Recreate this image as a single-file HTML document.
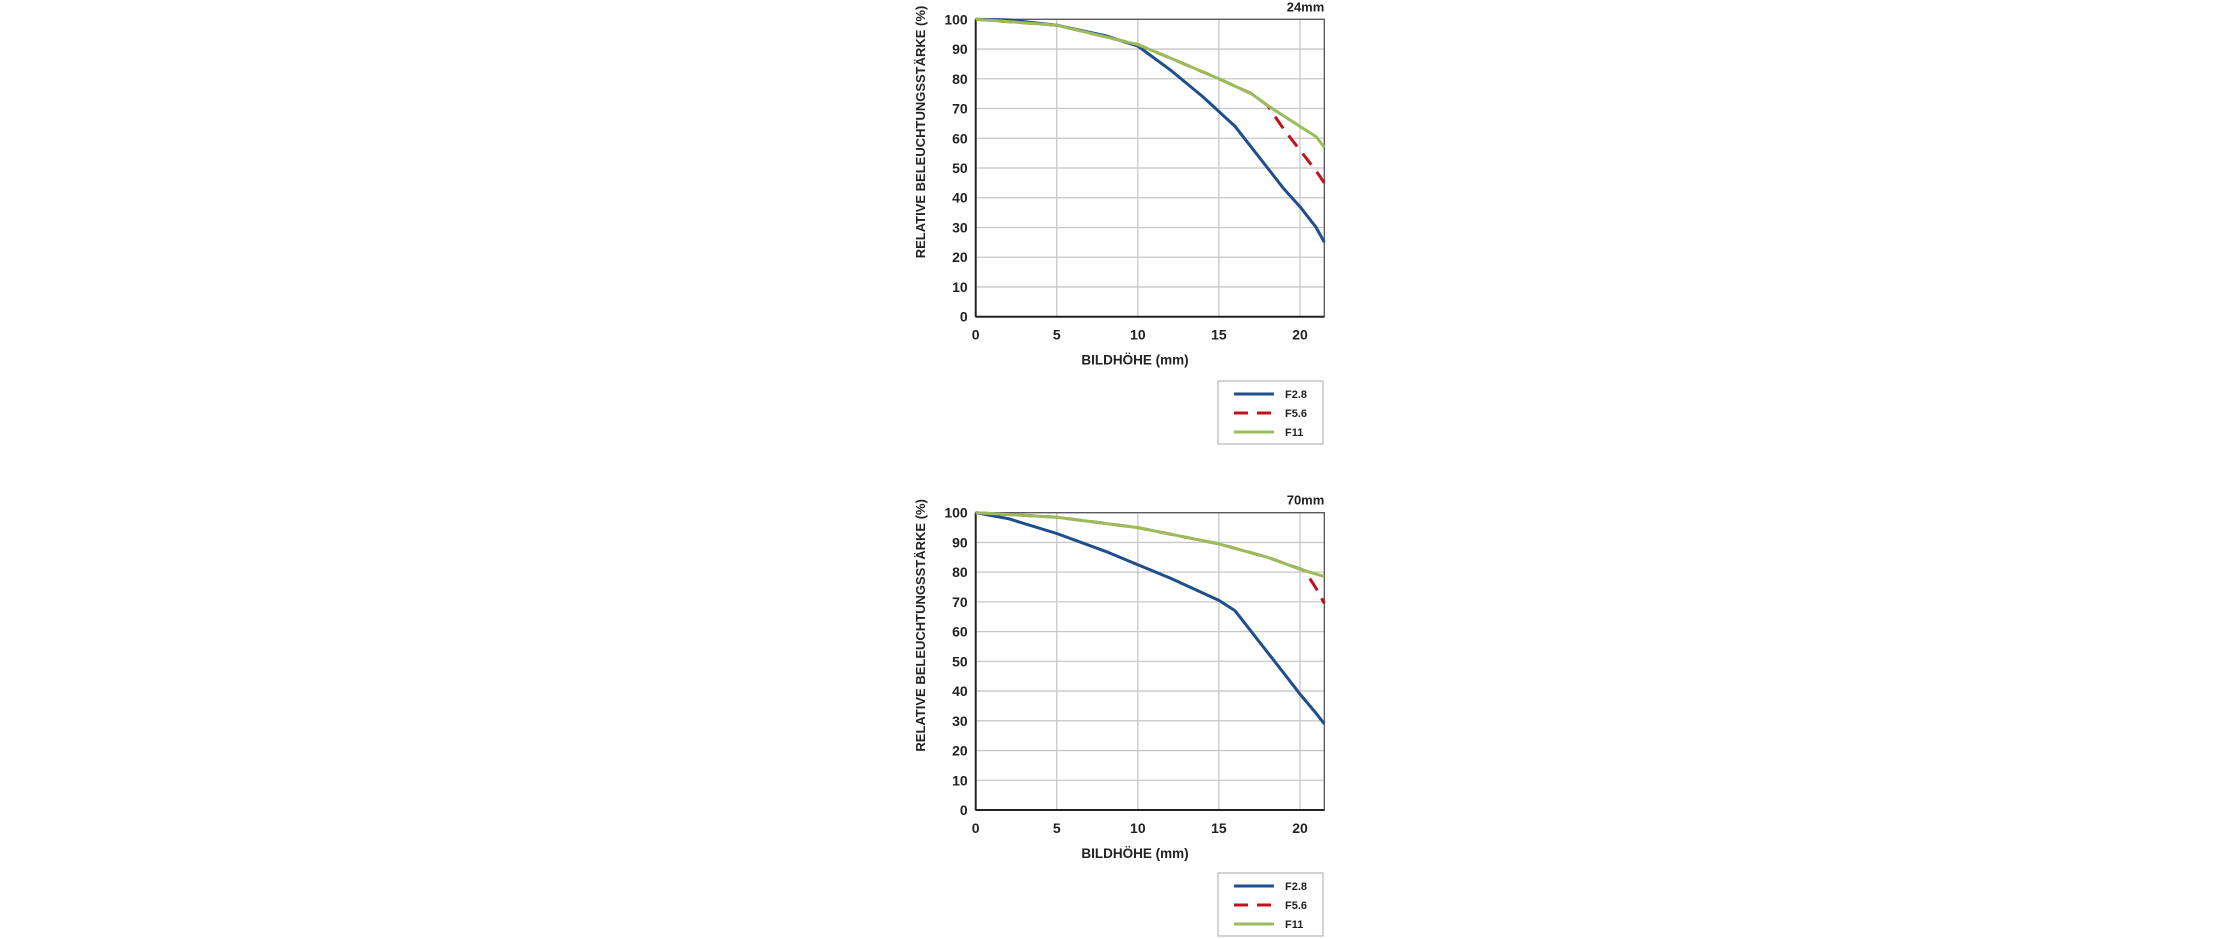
<!DOCTYPE html>
<html><head><meta charset="utf-8"><style>
html,body{margin:0;padding:0;background:#fff;}
svg{display:block;font-family:"Liberation Sans",sans-serif;font-weight:bold;}
</style></head><body>
<svg id="s" width="2238" height="939" xmlns="http://www.w3.org/2000/svg"></svg>
<script>
const s=document.getElementById('s');let h='';
const L=975.7,R=1324.3,pxmm=(R-L)/21.5;
function chart(top,bot,title,blue,green,red,legTop){
  const X=v=>L+v*pxmm, Y=v=>bot-(bot-top)*v/100;
  for(let i=0;i<=10;i++){h+=`<line x1="${L}" x2="${R}" y1="${Y(i*10)}" y2="${Y(i*10)}" stroke="#c8c8c8" stroke-width="1.3"/>`;
    h+=`<text x="${L-8}" y="${Y(i*10)+5}" font-size="14" text-anchor="end" fill="#222">${i*10}</text>`;}
  for(let i=0;i<=4;i++){h+=`<line x1="${X(i*5)}" x2="${X(i*5)}" y1="${top}" y2="${bot}" stroke="#c8c8c8" stroke-width="1.3"/>`;
    h+=`<text x="${X(i*5)}" y="${bot+23}" font-size="14" text-anchor="middle" fill="#222">${i*5}</text>`;}
  h+=`<rect x="${L}" y="${top}" width="${R-L}" height="${bot-top}" fill="none" stroke="#555" stroke-width="1.3"/>`;
  h+=`<line x1="${L}" x2="${R}" y1="${bot}" y2="${bot}" stroke="#222" stroke-width="2"/><line x1="${L}" x2="${L}" y1="${top}" y2="${bot}" stroke="#222" stroke-width="2"/>`;
  const p=a=>a.map(q=>X(q[0]).toFixed(1)+','+Y(q[1]).toFixed(1)).join(' ');
  h+=`<polyline points="${p(red)}" fill="none" stroke="#c0121c" stroke-width="3" stroke-dasharray="14,9"/>`;
  h+=`<polyline points="${p(blue)}" fill="none" stroke="#1f4e8c" stroke-width="3" stroke-linejoin="round"/>`;
  h+=`<polyline points="${p(green)}" fill="none" stroke="#9cbb5a" stroke-width="3" stroke-linejoin="round"/>`;
  h+=`<text x="${R}" y="${top-8}" font-size="13" text-anchor="end" fill="#222">${title}</text>`;
  const cy=(top+bot)/2-36;
  h+=`<text transform="translate(925,${cy}) rotate(-90)" font-size="13" text-anchor="middle" fill="#222">RELATIVE BELEUCHTUNGSSTÄRKE (%)</text>`;
  h+=`<text x="1135" y="${bot+48}" font-size="13.5" text-anchor="middle" fill="#222">BILDHÖHE (mm)</text>`;
  h+=`<rect x="1218" y="${legTop}" width="105" height="63" fill="none" stroke="#aaa" stroke-width="1"/>`;
  const ly=[legTop+13,legTop+32,legTop+51],cols=['#1f4e8c','#c0121c','#9cbb5a'],nm=['F2.8','F5.6','F11'];
  for(let i=0;i<3;i++){h+=`<line x1="1234" x2="1274" y1="${ly[i]}" y2="${ly[i]}" stroke="${cols[i]}" stroke-width="3" ${i==1?'stroke-dasharray="14,9"':''}/>`;
    h+=`<text x="1285" y="${ly[i]+4}" font-size="11" fill="#222">${nm[i]}</text>`;}
}
chart(19.3,316.7,'24mm',
 [[0,100],[2,99.8],[5,98],[8,94.5],[10,91],[12,83],[14,74],[16,64],[17,57],[18,50],[19,43],[20,37],[21,30],[21.5,25]],
 [[0,100],[5,98],[10,91.5],[12,87],[15,80],[17,75],[18,71],[19,67.5],[20,64],[21,60.5],[21.5,57]],
 [[0,100],[5,98],[10,91.5],[12,87],[15,80],[17,75],[18,71],[19,63],[20,56],[21,49],[21.5,45]],381);
chart(512.7,810,'70mm',
 [[0,100],[2,98],[5,93],[8,87],[10,82.5],[12,78],[15,70.5],[16,67],[17,60],[18,53],[19,46],[20,39],[21,32.5],[21.5,29]],
 [[0,100],[5,98.5],[10,95],[15,89.5],[18,85],[20,81],[21.5,78.5]],
 [[0,100],[5,98.5],[10,95],[15,89.5],[18,85],[20.3,80.5],[21,74.5],[21.5,69.5]],873);
s.innerHTML=h;
</script>
</body></html>
